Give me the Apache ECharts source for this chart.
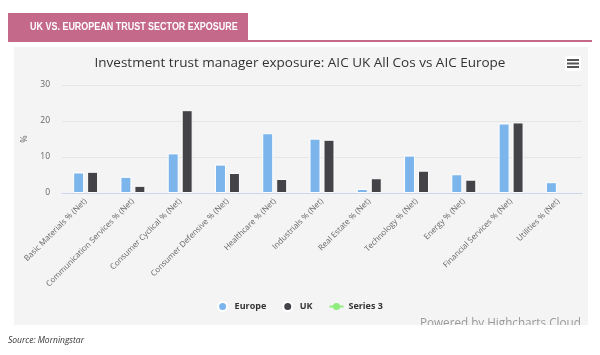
<!DOCTYPE html>
<html><head><meta charset="utf-8">
<script src="https://cdn.jsdelivr.net/npm/echarts@6/dist/echarts.min.js"></script>
<style>html,body{margin:0;padding:0;background:#fff}#c{width:600px;height:355px}</style>
</head><body><div id="c"></div>
<script>
var categories = ['Basic Materials % (Net)','Communication Services % (Net)','Consumer Cyclical % (Net)','Consumer Defensive % (Net)','Healthcare % (Net)','Industrials % (Net)','Real Estate % (Net)','Technology % (Net)','Energy % (Net)','Financial Services % (Net)','Utilities % (Net)'];
var europe = [5.7, 4.5, 11.0, 7.9, 16.6, 15.1, 1.1, 10.4, 5.2, 19.3, 3.0];
var uk = [5.9, 2.0, 23.0, 5.55, 3.9, 14.8, 4.1, 6.2, 3.7, 19.6, null];
var series3 = [];
var yTicks = [0, 10, 20, 30];

var chart = echarts.init(document.getElementById('c'), null, {renderer:'canvas'});
var font = 'Open Sans, Lato, sans-serif';
chart.setOption({
  animation:false,
  backgroundColor:'#ffffff',
  graphic:[
    {type:'rect', z:-10, silent:true, shape:{x:14,y:47,width:574,height:278}, style:{fill:'#f4f4f4'}},
    {type:'rect', z:1, shape:{x:8,y:13,width:240,height:29}, style:{fill:'#c4698a'}},
    {type:'rect', z:1, shape:{x:8,y:40,width:584,height:2}, style:{fill:'#c4698a'}},
    {type:'text', z:2, x:30, y:21, scaleX:0.78, style:{text:'UK VS. EUROPEAN TRUST SECTOR EXPOSURE', fill:'#ffffff', font:'bold 11.5px "Liberation Sans", Arial, sans-serif'}},
    {type:'text', z:2, left:420, top:318, style:{text:'Powered by Highcharts Cloud', fill:'#999999', font:'11.7px '+font}},
    {type:'rect', z:5, shape:{x:0,y:325,width:600,height:30}, style:{fill:'#ffffff'}},
    {type:'text', z:6, left:8, top:336, style:{text:'Source: Morningstar', fill:'#333333', font:'italic 8.5px '+font}},
    {type:'rect', z:3, shape:{x:565,y:56,width:16,height:15}, style:{fill:'#ffffff'}},
    {type:'rect', z:4, shape:{x:567,y:59,width:12,height:2}, style:{fill:'#555555'}},
    {type:'rect', z:4, shape:{x:567,y:62.5,width:12,height:2}, style:{fill:'#555555'}},
    {type:'rect', z:4, shape:{x:567,y:66,width:12,height:2}, style:{fill:'#555555'}}
  ],
  title:{text:'Investment trust manager exposure: AIC UK All Cos vs AIC Europe', left:'center', top:51,
    textStyle:{fontFamily:font, fontSize:13.5, fontWeight:'normal', color:'#333333'}},
  legend:{bottom:38, left:'center', itemGap:16, itemWidth:14, itemHeight:9, symbolKeepAspect:true,
    textStyle:{fontFamily:font, fontSize:9, fontWeight:'bold', color:'#333333'},
    data:[{name:'Europe', icon:'circle'},{name:'UK', icon:'circle'},{name:'Series 3'}]},
  grid:{left:62, right:18, top:85, bottom:162, containLabel:false},
  xAxis:{type:'category', data:categories,
    axisLine:{lineStyle:{color:'#ccd6eb'}}, axisTick:{show:false},
    axisLabel:{rotate:45, interval:0, fontFamily:font, fontSize:8, color:'#666666', margin:7}},
  yAxis:{type:'value', min:0, max:30, interval:10, name:'%', nameLocation:'middle', nameGap:21, nameRotate:90,
    nameTextStyle:{fontFamily:font, fontSize:9, color:'#666666'},
    axisLabel:{fontFamily:font, fontSize:8.5, color:'#666666', margin:12},
    splitLine:{lineStyle:{color:'#e6e6e6'}}},
  series:[
    {name:'Europe', type:'bar', data:europe, barWidth:11, barGap:'27%', itemStyle:{color:'#7cb5ec', borderColor:'#ffffff', borderWidth:1}},
    {name:'UK', type:'bar', data:uk, barWidth:11, itemStyle:{color:'#434348', borderColor:'#ffffff', borderWidth:1}},
    {name:'Series 3', type:'line', data:series3, symbol:'circle', symbolSize:5, itemStyle:{color:'#90ed7d'}, lineStyle:{color:'#90ed7d', width:2}}
  ]
});
</script></body></html>
